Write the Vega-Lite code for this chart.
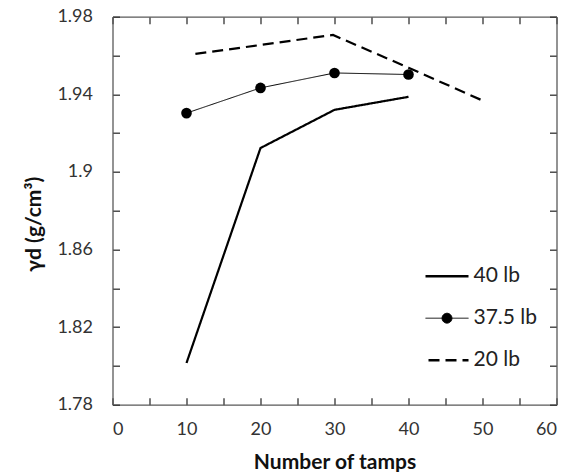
{
  "$schema": "https://vega.github.io/schema/vega-lite/v6.json",
  "width": 444,
  "height": 388,
  "autosize": {"type": "none"},
  "padding": {"left": 112.5, "top": 16.7, "right": 19.5, "bottom": 67.3},
  "background": "white",
  "config": {
    "view": {"stroke": null},
    "font": "Lato",
    "axis": {
      "domainColor": "#595959",
      "domainWidth": 1.3,
      "tickColor": "#333333",
      "tickWidth": 1.3,
      "tickSize": -7,
      "labelFont": "Lato",
      "labelFontSize": 18,
      "labelColor": "#333333",
      "grid": false,
      "titleFont": "Lato",
      "titleFontSize": 21,
      "titleFontWeight": "bold",
      "titleColor": "#111111"
    }
  },
  "data": {
    "values": [
      {"series": "40 lb", "tamps": 10, "density": 1.8015},
      {"series": "40 lb", "tamps": 20, "density": 1.9123},
      {"series": "40 lb", "tamps": 30, "density": 1.932},
      {"series": "40 lb", "tamps": 40, "density": 1.9387},
      {"series": "37.5 lb", "tamps": 10, "density": 1.9303},
      {"series": "37.5 lb", "tamps": 20, "density": 1.9433},
      {"series": "37.5 lb", "tamps": 30, "density": 1.951},
      {"series": "37.5 lb", "tamps": 40, "density": 1.9502},
      {"series": "20 lb", "tamps": 11.2, "density": 1.9608},
      {"series": "20 lb", "tamps": 20, "density": 1.9654},
      {"series": "20 lb", "tamps": 29.8, "density": 1.9706},
      {"series": "20 lb", "tamps": 40, "density": 1.9537},
      {"series": "20 lb", "tamps": 50, "density": 1.9368}
    ]
  },
  "layer": [
    {
      "mark": {"type": "line", "color": "black"},
      "encoding": {
        "x": {
          "field": "tamps", "type": "quantitative",
          "scale": {"domain": [0, 60], "nice": false},
          "axis": {
            "orient": "bottom",
            "values": [0, 5, 10, 15, 20, 25, 30, 35, 40, 45, 50, 55, 60],
            "labelExpr": "datum.value % 10 === 0 ? datum.label : ''",
            "labelPadding": 23,
            "title": "Number of tamps",
            "titleFontSize": 21,
            "titlePadding": 13
          }
        },
        "y": {
          "field": "density", "type": "quantitative",
          "scale": {"domain": [1.78, 1.98], "nice": false, "zero": false},
          "axis": {
            "orient": "left",
            "values": [1.78, 1.8, 1.82, 1.84, 1.86, 1.88, 1.9, 1.92, 1.94, 1.96, 1.98],
            "format": ".2~f",
            "labelExpr": "round((datum.value - 1.78) / 0.02) % 2 === 0 ? datum.label : ''",
            "labelPadding": 27,
            "title": "γd (g/cm³)",
            "titleY": 207,
            "titlePadding": 12
          }
        },
        "detail": {"field": "series"},
        "strokeDash": {
          "field": "series", "type": "nominal",
          "scale": {"domain": ["40 lb", "37.5 lb", "20 lb"], "range": [[1, 0], [1, 0], [11, 6]]},
          "legend": {
            "title": null,
            "orient": "none",
            "legendX": 324,
            "legendY": 249,
            "symbolType": "stroke",
            "symbolSize": 1849,
            "symbolStrokeColor": "black",
            "symbolStrokeWidth": 2.2,
            "labelFont": "Lato",
            "labelFontSize": 21,
            "labelColor": "#222222",
            "labelOffset": 16,
            "rowPadding": 20,
            "encode": {
              "symbols": {
                "update": {
                  "shape": {"signal": "datum.value === '37.5 lb' ? 'M-1,0H1M-0.23,0A0.23,0.23,0,1,0,0.23,0A0.23,0.23,0,1,0,-0.23,0Z' : 'stroke'"},
                  "fill": {"signal": "datum.value === '37.5 lb' ? 'black' : 'transparent'"},
                  "strokeWidth": {"signal": "datum.value === '37.5 lb' ? 1 : 2.4"},
                  "strokeDash": {"signal": "datum.value === '20 lb' ? [14, 7] : [1, 0]"},
                  "strokeDashOffset": {"signal": "datum.value === '20 lb' ? 14 : 0"},
                  "stroke": {"value": "black"}
                }
              }
            }
          }
        },
        "strokeWidth": {
          "condition": {"test": "datum.series === '37.5 lb'", "value": 1},
          "value": 2.2
        }
      }
    },
    {
      "transform": [{"filter": "datum.series === '37.5 lb'"}],
      "mark": {"type": "point", "filled": true, "color": "black", "opacity": 1, "size": 113},
      "encoding": {
        "x": {
          "field": "tamps", "type": "quantitative",
          "axis": {
            "orient": "top",
            "values": [0, 5, 10, 15, 20, 25, 30, 35, 40, 45, 50, 55, 60],
            "labels": false,
            "title": null
          }
        },
        "y": {
          "field": "density", "type": "quantitative",
          "axis": {
            "orient": "right",
            "values": [1.78, 1.8, 1.82, 1.84, 1.86, 1.88, 1.9, 1.92, 1.94, 1.96, 1.98],
            "labels": false,
            "title": null
          }
        }
      }
    }
  ]
}
